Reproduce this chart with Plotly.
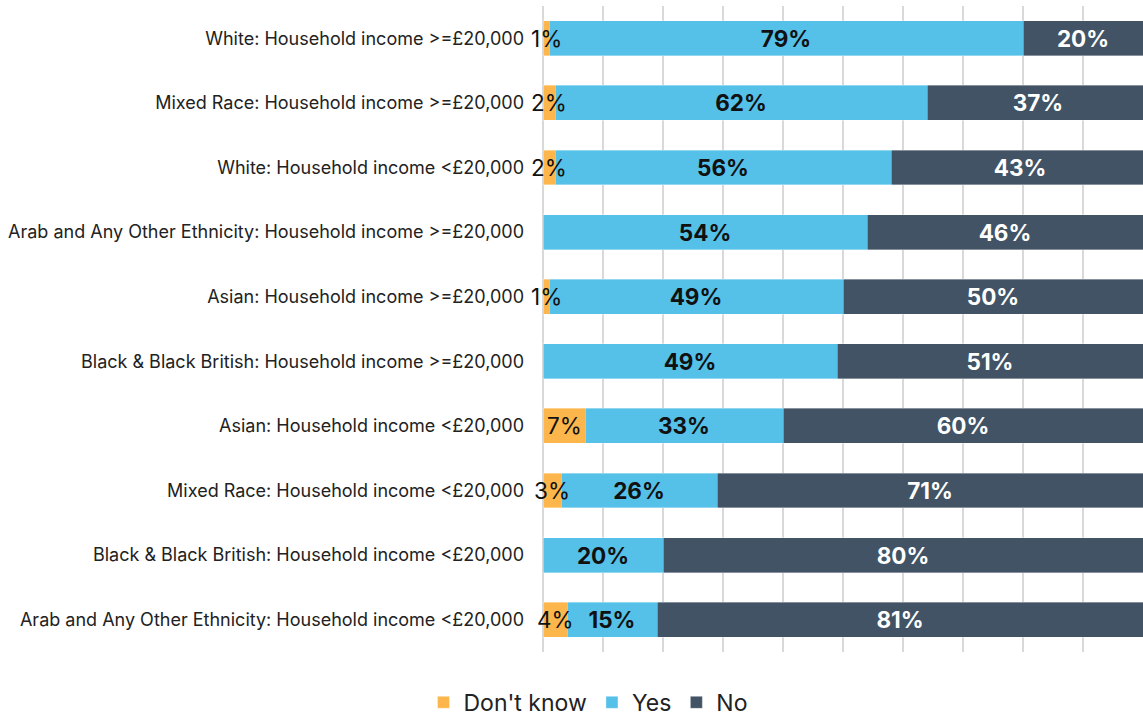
import plotly.graph_objects as go

# rows, top to bottom
groups = [
    "White: Household income >=£20,000",
    "Mixed Race: Household income >=£20,000",
    "White: Household income <£20,000",
    "Arab and Any Other Ethnicity: Household income >=£20,000",
    "Asian: Household income >=£20,000",
    "Black & Black British: Household income >=£20,000",
    "Asian: Household income <£20,000",
    "Mixed Race: Household income <£20,000",
    "Black & Black British: Household income <£20,000",
    "Arab and Any Other Ethnicity: Household income <£20,000",
]
dont_know = [1, 2, 2, 0, 1, 0, 7, 3, 0, 4]
yes = [79, 62, 56, 54, 49, 49, 33, 26, 20, 15]
no = [20, 37, 43, 46, 50, 51, 60, 71, 80, 81]

colors = {"Don't know": "#FDB64B", "Yes": "#55C0E8", "No": "#415364"}
font = "Inter, Roboto, sans-serif"


def labels(vals):
    return [f"{v}%" if v else "" for v in vals]


fig = go.Figure()
for name, vals, txt_color in [
    ("Don't know", dont_know, "#111111"),
    ("Yes", yes, "#111111"),
    ("No", no, "#ffffff"),
]:
    # don't know labels are annotations (below) so they can spill over the bar
    fig.add_trace(go.Bar(
        name=name,
        y=groups,
        x=vals,
        orientation="h",
        text=None if name == "Don't know" else labels(vals),
        textposition="inside",
        insidetextanchor="middle",
        constraintext="none",
        textangle=0,
        textfont=dict(family=font, size=22.5, color=txt_color, weight="bold"),
        marker=dict(color=colors[name], line=dict(color="rgba(255,255,255,0.6)", width=0.6)),
        hoverinfo="skip",
    ))

for g, d, t in zip(groups, dont_know, labels(dont_know)):
    if t:
        fig.add_annotation(
            x=d / 2, y=g, text=t, showarrow=False,
            xanchor="center", yanchor="middle",
            font=dict(family=font, size=22.5, color="#111111"),
        )

fig.update_layout(
    barmode="stack",
    bargap=0.46,
    width=1143,
    height=717,
    margin=dict(l=543, r=0, t=6, b=65, autoexpand=False),
    plot_bgcolor="white",
    paper_bgcolor="white",
    font=dict(family=font, size=18, color="#222222"),
    legend=dict(
        orientation="h",
        x=0.075, xanchor="center",
        y=-0.078, yanchor="middle",
        font=dict(size=23, color="#222222"),
        traceorder="normal",
    ),
)
fig.update_xaxes(
    range=[0, 100],
    dtick=10,
    showticklabels=False,
    showgrid=True,
    gridcolor="#d9d9d9",
    gridwidth=1.5,
    zeroline=True,
    zerolinecolor="#d9d9d9",
    zerolinewidth=1.5,
    fixedrange=True,
)
fig.update_yaxes(
    autorange="reversed",
    ticklabelstandoff=18,
    showgrid=False,
    zeroline=False,
    showline=False,
    fixedrange=True,
)

fig.write_html(
    "out.html",
    config={"displayModeBar": False},
    post_script="document.body.style.margin='0';document.body.style.overflow='hidden';",
)
